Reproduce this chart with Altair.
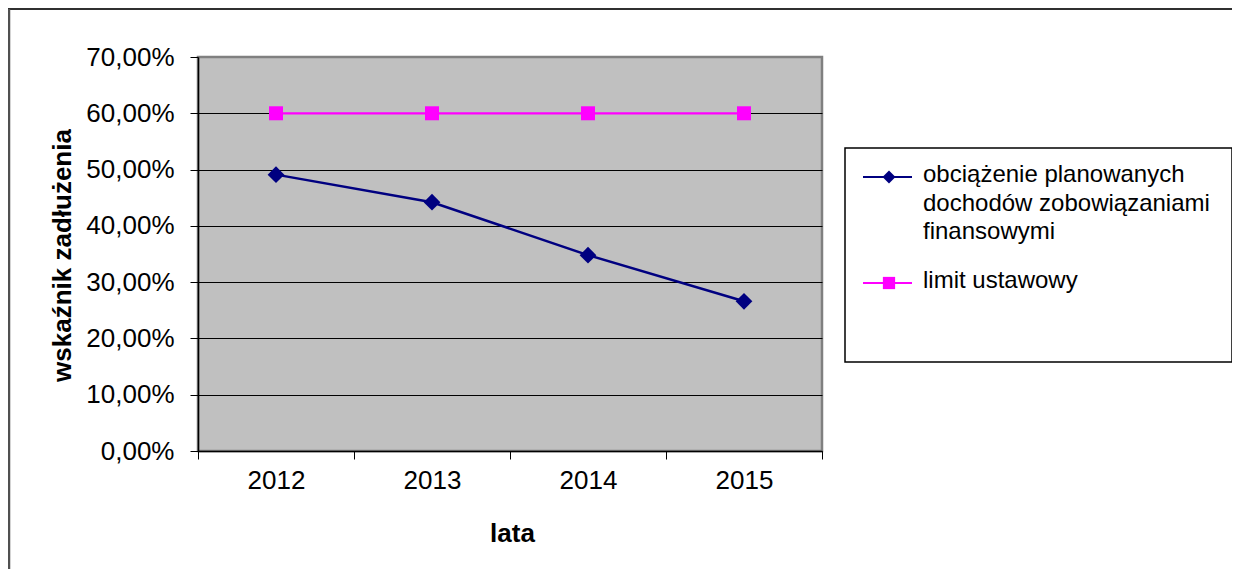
import altair as alt
import pandas as pd

years = ["2012", "2013", "2014", "2015"]
series_names = [
    "obciążenie planowanych dochodów zobowiązaniami finansowymi",
    "limit ustawowy",
]
legend_labels = [
    "obciążenie planowanych\ndochodów zobowiązaniami\nfinansowymi",
    "limit ustawowy",
]
obciazenie = [0.491, 0.442, 0.348, 0.266]
limit_ustawowy = [0.60, 0.60, 0.60, 0.60]
y_ticks = [0.0, 0.1, 0.2, 0.3, 0.4, 0.5, 0.6, 0.7]
colors = ["#000080", "#FF00FF"]
shapes = ["diamond", "square"]

rows = []
for y, v in zip(years, obciazenie):
    rows.append({"rok": y, "seria": series_names[0], "wartosc": v})
for y, v in zip(years, limit_ustawowy):
    rows.append({"rok": y, "seria": series_names[1], "wartosc": v})
df = pd.DataFrame(rows)

FONT = "Liberation Sans"

x_enc = alt.X(
    "rok:O",
    bandPosition=0.5,
    scale=alt.Scale(type="band", domain=years, paddingInner=0, paddingOuter=0),
    axis=alt.Axis(
        title="lata",
        tickBand="extent",
        tickSize=8,
        tickColor="black",
        domainColor="black",
        domainWidth=1.5,
        labelAngle=0,
        labelFont=FONT,
        labelFontSize=26,
        labelColor="black",
        labelPadding=8,
        titleFont=FONT,
        titleFontSize=26,
        titleFontWeight="bold",
        titleColor="black",
        titleX=314,
        titleY=82,
        titleAlign="center",
        titleBaseline="middle",
        grid=False,
    ),
)
y_enc = alt.Y(
    "wartosc:Q",
    scale=alt.Scale(domain=[0, 0.7], nice=False, zero=True),
    axis=alt.Axis(
        title="wskaźnik zadłużenia",
        values=y_ticks,
        labelExpr="replace(format(datum.value, '.2%'), '.', ',')",
        tickSize=8,
        tickColor="black",
        domainColor="black",
        domainWidth=1.5,
        labelFont=FONT,
        labelFontSize=26,
        labelColor="black",
        labelPadding=16,
        grid=True,
        gridColor={"condition": {"test": "datum.value >= 0.7", "value": "#808080"}, "value": "black"},
        gridWidth=1.2,
        titleFont=FONT,
        titleFontSize=26,
        titleFontWeight="bold",
        titleColor="black",
        titleX=-136,
        titleY=198,
        titleAngle=-90,
        titleAlign="center",
        titleBaseline="middle",
    ),
)

color_enc = alt.Color("seria:N", scale=alt.Scale(domain=series_names, range=colors), legend=None)

lines = alt.Chart(df).mark_line().encode(
    x=x_enc,
    y=y_enc,
    color=color_enc,
    strokeWidth=alt.StrokeWidth("seria:N", scale=alt.Scale(domain=series_names, range=[2.5, 2.2]), legend=None),
)
points = alt.Chart(df).mark_point(filled=True, opacity=1).encode(
    x=x_enc,
    y=y_enc,
    color=color_enc,
    shape=alt.Shape("seria:N", scale=alt.Scale(domain=series_names, range=shapes), legend=None),
    size=alt.Size("seria:N", scale=alt.Scale(domain=series_names, range=[280, 196]), legend=None),
)

# decorative frame (top and left edges of the chart area)
frame_top = alt.Chart(pd.DataFrame({"a": [0]})).mark_rule(color="#303030", strokeWidth=2).encode(
    x=alt.value(-190), x2=alt.value(1050), y=alt.value(-48)
)
frame_left = alt.Chart(pd.DataFrame({"a": [0]})).mark_rule(color="#505050", strokeWidth=2.5).encode(
    x=alt.value(-189), y=alt.value(-48), y2=alt.value(530)
)

# legend box
legend_box = alt.Chart(pd.DataFrame({"a": [0]})).mark_rect(
    fill="white", stroke="black", strokeWidth=1.5
).encode(x=alt.value(647), x2=alt.value(1034), y=alt.value(91), y2=alt.value(305))

legend_layers = []
entry_y = [120, 226]
marker_sizes = [170, 150]
for i in range(2):
    ld = pd.DataFrame({"label": [legend_labels[i]]})
    legend_layers.append(
        alt.Chart(ld).mark_rule(color=colors[i], strokeWidth=2.2).encode(
            x=alt.value(665), x2=alt.value(714), y=alt.value(entry_y[i])
        )
    )
    legend_layers.append(
        alt.Chart(ld).mark_point(filled=True, opacity=1, color=colors[i], shape=shapes[i], size=marker_sizes[i]).encode(
            x=alt.value(691), y=alt.value(entry_y[i])
        )
    )
    legend_layers.append(
        alt.Chart(ld).mark_text(
            align="left", baseline="middle", font=FONT, fontSize=24, color="black",
            lineBreak="\n", lineHeight=28.5,
        ).encode(
            text="label:N",
            x=alt.value(725),
            y=alt.value(entry_y[i] - 2),
        )
    )

chart = alt.layer(
    lines, points, frame_top, frame_left, legend_box, *legend_layers
).properties(
    width=624,
    height=394,
    autosize=alt.AutoSizeParams(type="none"),
    padding={"left": 190, "top": 49, "right": 410, "bottom": 118},
    background="white",
).configure_view(
    fill="#C0C0C0", stroke="#808080", strokeWidth=2.5
)

chart.save("out.html", embed_options={"renderer": "svg", "actions": False})
